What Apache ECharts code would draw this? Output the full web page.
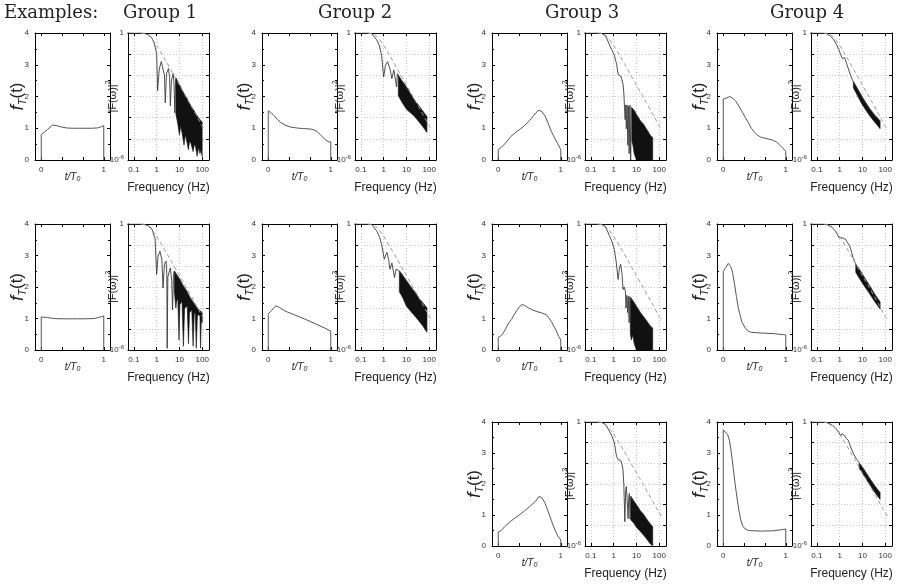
<!DOCTYPE html>
<html>
<head>
<meta charset="utf-8">
<script src="https://cdn.jsdelivr.net/npm/echarts@6/dist/echarts.min.js"></script>
<style>
  html, body { margin: 0; background: #fff; }
  #chart { width: 909px; height: 584px; }
</style>
</head>
<body>
<div id="chart"></div>
<script>
// ---- data ----
const groupTitles = ['Group 1', 'Group 2', 'Group 3', 'Group 4'];
const timeTicks = [0, 1 / 3, 2 / 3, 1];
const timeLabels = [0, 1];
const freqTicks = [0.1, 1, 10, 100];

// pulse shapes f_T(t), [t/T0, value]
const pulseG1a = [[0,0],[0,0.8],[0.05,0.88],[0.1,0.96],[0.18,1.1],[0.25,1.08],[0.3,1.05],[0.4,1.01],[0.5,1.0],[0.6,1.0],[0.7,1.0],[0.8,1.0],[0.9,1.01],[0.95,1.04],[1,1.08],[1,0]];
const pulseG1b = [[0,0],[0,1.05],[0.1,1.03],[0.2,1.0],[0.3,0.99],[0.5,0.99],[0.7,0.99],[0.85,1.0],[0.93,1.04],[1,1.08],[1,0]];
const pulseG2a = [[0,0],[0,1.55],[0.05,1.48],[0.1,1.38],[0.15,1.27],[0.2,1.18],[0.27,1.1],[0.35,1.04],[0.45,1.01],[0.55,0.99],[0.65,0.98],[0.72,0.96],[0.78,0.9],[0.83,0.8],[0.88,0.7],[0.92,0.63],[0.96,0.58],[1,0.57],[1,0]];
const pulseG2b = [[0,0],[0,1.15],[0.05,1.25],[0.12,1.4],[0.18,1.35],[0.25,1.26],[0.3,1.21],[0.4,1.13],[0.5,1.05],[0.6,0.97],[0.7,0.88],[0.8,0.79],[0.9,0.7],[1,0.6],[1,0]];
const pulseG3a = [[0,0],[0,0.33],[0.05,0.4],[0.1,0.5],[0.2,0.74],[0.3,0.9],[0.4,1.05],[0.5,1.24],[0.6,1.48],[0.65,1.57],[0.7,1.52],[0.75,1.38],[0.8,1.15],[0.85,0.9],[0.9,0.7],[0.95,0.52],[1,0.33],[1,0]];
const pulseG3b = [[0,0],[0,0.4],[0.05,0.46],[0.1,0.6],[0.15,0.8],[0.21,0.97],[0.29,1.24],[0.37,1.44],[0.42,1.42],[0.48,1.34],[0.55,1.27],[0.62,1.22],[0.69,1.18],[0.77,1.12],[0.81,1.02],[0.85,0.9],[0.9,0.72],[0.93,0.6],[0.97,0.42],[1,0.32],[1,0]];
const pulseG3c = [[0,0],[0,0.45],[0.05,0.5],[0.1,0.62],[0.2,0.8],[0.3,0.95],[0.4,1.1],[0.5,1.27],[0.6,1.45],[0.65,1.6],[0.7,1.55],[0.75,1.38],[0.8,1.1],[0.85,0.82],[0.9,0.55],[0.95,0.33],[1,0.2],[1,0]];
const pulseG4a = [[0,0],[0,1.92],[0.05,1.95],[0.1,2.0],[0.15,1.95],[0.2,1.85],[0.25,1.7],[0.3,1.52],[0.35,1.35],[0.4,1.18],[0.45,1.0],[0.5,0.87],[0.55,0.78],[0.6,0.72],[0.7,0.67],[0.8,0.62],[0.85,0.57],[0.9,0.48],[0.95,0.38],[1,0.27],[1,0]];
const pulseG4b = [[0,0],[0,2.5],[0.04,2.62],[0.08,2.75],[0.12,2.65],[0.15,2.45],[0.18,2.1],[0.21,1.7],[0.24,1.35],[0.27,1.1],[0.3,0.88],[0.35,0.7],[0.4,0.6],[0.45,0.56],[0.6,0.54],[0.8,0.52],[1,0.48],[1,0]];
const pulseG4c = [[0,0],[0,3.75],[0.03,3.72],[0.07,3.6],[0.1,3.4],[0.13,3.0],[0.16,2.5],[0.19,2.0],[0.22,1.55],[0.25,1.15],[0.28,0.85],[0.31,0.65],[0.35,0.55],[0.4,0.5],[0.6,0.48],[0.8,0.49],[0.95,0.53],[1,0.55],[1,0]];

// reference (dashed) spectrum, [Hz, |F|^2]
const refSpec = [[0.2,1],[0.3,0.96],[0.4,0.85],[0.6,0.55],[1,0.26],[2,0.075],[3,0.035],[5,0.013],[10,0.0035],[20,9.5e-4],[50,1.6e-4],[100,4e-5],[125,2.8e-5]];

// spectra: resolved lobes, then the dense band (upper edge / lower edge)
const specG1a = [[0.05,1],[0.2,0.99],[0.3,0.95],[0.45,0.8],[0.62,0.58],[0.8,0.3],[1.0,0.11],[1.1,0.0019],[1.3,0.02],[1.6,0.045],[1.9,0.044],[2.2,0.01],[2.4,0.0005],[2.7,0.012],[3.3,0.021],[3.7,0.008],[4.0,0.00036],[4.5,0.006],[5.3,0.012],[5.8,0.004],[6.3,0.00017],[6.8,0.006]];
const topG1a = [[7,0.0075],[10,0.0035],[15,0.0015],[20,0.0009],[30,0.0004],[45,0.0002],[60,0.00012],[80,0.00008],[100,0.00006]];
const botG1a = [[7,1.5e-4],[8.5,5e-5],[10,1.5e-5],[11.5,4e-5],[13,2e-5],[16,5e-6],[18,1.5e-5],[20,1e-5],[25,3e-6],[28,8e-6],[32,6e-6],[40,2.5e-6],[45,5e-6],[50,5e-6],[60,1.5e-6],[70,4e-6],[80,2e-6],[90,3e-6],[100,1.5e-6]];

const specG1b = [[0.05,1],[0.2,0.99],[0.3,0.95],[0.45,0.8],[0.62,0.58],[0.85,0.2],[1.0,0.004],[1.15,0.03],[1.4,0.05],[1.7,0.02],[1.9,0.0009],[2.2,0.012],[2.6,0.017],[2.8,0.004],[2.9,1.2e-6],[3.1,0.003],[4.0,0.008],[4.6,0.002],[5.0,8e-5],[5.5,0.004]];
const topG1b = [[6,0.0058],[8,0.0035],[10,0.0025],[15,0.0011],[20,0.0007],[30,0.0003],[45,0.00016],[60,0.0001],[85,0.00007],[100,0.00006]];
const botG1b = [[6,6e-4],[7,1e-4],[7.5,2e-4],[8.5,3e-4],[9.6,3e-6],[10.5,1.5e-4],[13,2e-4],[15,1.5e-6],[17,1e-4],[22,1.2e-4],[25,2e-6],[28,6e-5],[35,8e-5],[40,1.5e-6],[45,5e-5],[50,6e-5],[55,1.2e-6],[62,4e-5],[70,5e-5],[80,4e-5],[85,1.2e-6],[92,3e-5],[100,2e-5]];

const specG2a = [[0.05,1],[0.2,0.99],[0.3,0.93],[0.49,0.48],[0.65,0.25],[0.81,0.09],[1.0,0.0083],[1.2,0.03],[1.5,0.044],[1.9,0.02],[2.3,0.007],[2.8,0.018],[3.3,0.021],[3.7,0.0028],[4.0,0.012]];
const topG2a = [[4.4,0.01],[6,0.006],[10,0.0028],[20,0.0008],[40,0.0003],[80,0.00011]];
const botG2a = [[4.4,1.1e-3],[6,6e-4],[10,2.5e-4],[20,1.3e-4],[30,8e-5],[50,4e-5],[80,2e-5]];

const specG2b = [[0.05,1],[0.2,0.99],[0.3,0.93],[0.49,0.48],[0.65,0.25],[0.81,0.11],[1.07,0.021],[1.25,0.035],[1.4,0.044],[1.65,0.02],[1.9,0.007],[2.3,0.014],[2.6,0.017],[3.0,0.0028],[3.5,0.007],[4.1,0.0083]];
const topG2b = [[4.9,0.0058],[7,0.0035],[10,0.002],[20,0.0007],[40,0.00025],[80,0.0001]];
const botG2b = [[4.9,6e-4],[7,3e-4],[10,1.2e-4],[20,5e-5],[30,3e-5],[50,1.5e-5],[80,7e-6]];

const specG3a = [[0.05,1],[0.2,0.99],[0.3,0.96],[0.45,0.7],[0.65,0.28],[0.85,0.15],[1.07,0.09],[1.38,0.03],[1.57,0.011],[1.8,0.0098],[2.04,0.0093],[2.3,0.0065],[2.57,0.004],[2.8,0.0015],[3.0,0.0003],[3.2,0.00008],[3.4,0.0004],[3.6,0.00003],[3.9,0.0004],[4.2,5e-6],[4.5,0.00035],[4.8,2e-6],[5.2,0.0004],[5.6,1e-6],[6,0.0003]];
const topG3a = [[6.3,0.0003],[8,0.00022],[10,0.00014],[15,0.00007],[20,0.00005],[30,0.000025],[40,0.000015],[52,0.000011]];
const botG3a = [[6.3,8e-6],[7,5e-6],[8,2e-6],[10,1e-6],[20,1e-6],[40,1e-6],[52,1e-6]];

const specG3b = [[0.05,1],[0.2,0.99],[0.3,0.96],[0.45,0.7],[0.65,0.28],[0.85,0.14],[1.07,0.063],[1.3,0.015],[1.57,0.0023],[1.8,0.008],[2.04,0.012],[2.3,0.005],[2.6,0.00076],[2.9,0.001],[3.3,0.0006],[3.5,0.0001],[3.8,0.0004],[4.1,0.00006],[4.4,0.00036],[4.8,0.00002],[5.1,0.00035]];
const topG3b = [[5.4,0.00033],[7,0.00022],[10,0.00012],[15,0.00006],[20,0.00004],[30,0.000022],[40,0.000014],[52,0.000011]];
const botG3b = [[5.4,6e-6],[6,3e-6],[7,5e-6],[8,2e-6],[10,1e-6],[15,1e-6],[30,1e-6],[52,1e-6]];

const specG3c = [[0.05,1],[0.2,0.99],[0.3,0.96],[0.45,0.72],[0.65,0.36],[0.85,0.2],[1.07,0.1],[1.33,0.022],[1.57,0.015],[1.8,0.0145],[2.04,0.014],[2.3,0.009],[2.57,0.005],[2.8,0.001],[3.1,0.000015],[3.4,0.0005],[3.6,0.00076],[3.9,0.0002],[4.3,0.000021],[4.6,0.0002],[4.9,0.00035],[5.3,0.00002]];
const topG3c = [[5.7,0.00025],[8,0.00014],[10,0.0001],[15,0.00005],[20,0.000035],[30,0.000018],[40,0.000012],[52,0.0000085]];
const botG3c = [[5.7,1.8e-5],[8,1.2e-5],[10,8e-6],[15,5e-6],[20,3.5e-6],[30,2e-6],[40,1.3e-6],[52,1e-6]];

const specG4a = [[0.05,1],[0.2,0.98],[0.28,0.9],[0.4,0.7],[0.55,0.48],[0.75,0.27],[0.92,0.16],[1.1,0.1],[1.3,0.063],[1.45,0.075],[1.65,0.068],[2.03,0.036],[2.6,0.016],[3.2,0.0085],[3.7,0.0058]];
const topG4a = [[4.0,0.005],[6,0.0024],[10,0.0009],[20,0.00028],[35,0.00013],[60,0.00007]];
const botG4a = [[4.0,2.6e-3],[6,1.1e-3],[10,4e-4],[20,1.3e-4],[35,6e-5],[60,3e-5]];

const specG4b = [[0.05,1],[0.2,0.98],[0.3,0.9],[0.47,0.69],[0.65,0.45],[0.78,0.33],[0.95,0.22],[1.1,0.18],[1.3,0.22],[1.5,0.26],[1.8,0.19],[2.2,0.13],[2.75,0.09],[3.1,0.06],[3.4,0.044],[3.9,0.025],[4.5,0.017]];
const topG4b = [[5.1,0.012],[7,0.0075],[10,0.004],[20,0.0012],[35,0.00045],[60,0.00019]];
const botG4b = [[5.1,5e-3],[7,2.8e-3],[10,1.5e-3],[20,5e-4],[35,2e-4],[60,9e-5]];

const specG4c = [[0.05,1],[0.2,0.98],[0.3,0.9],[0.47,0.69],[0.65,0.52],[0.78,0.44],[0.95,0.3],[1.1,0.21],[1.25,0.27],[1.43,0.3],[1.65,0.22],[1.83,0.17],[2.0,0.18],[2.2,0.14],[2.4,0.13],[2.6,0.1],[2.85,0.095],[3.1,0.081],[3.6,0.039],[4.3,0.026],[5.1,0.018],[6,0.014]];
const topG4c = [[7.2,0.0105],[10,0.0065],[20,0.002],[35,0.0008],[60,0.00038]];
const botG4c = [[7.2,5.9e-3],[10,3.3e-3],[20,1e-3],[35,4e-4],[60,1.8e-4]];

// which panel each example goes in: [group, row]
const examples = [
  { at: [0, 0], pulse: pulseG1a, spec: specG1a, top: topG1a, bot: botG1a },
  { at: [0, 1], pulse: pulseG1b, spec: specG1b, top: topG1b, bot: botG1b },
  { at: [1, 0], pulse: pulseG2a, spec: specG2a, top: topG2a, bot: botG2a },
  { at: [1, 1], pulse: pulseG2b, spec: specG2b, top: topG2b, bot: botG2b },
  { at: [2, 0], pulse: pulseG3a, spec: specG3a, top: topG3a, bot: botG3a },
  { at: [2, 1], pulse: pulseG3b, spec: specG3b, top: topG3b, bot: botG3b },
  { at: [2, 2], pulse: pulseG3c, spec: specG3c, top: topG3c, bot: botG3c },
  { at: [3, 0], pulse: pulseG4a, spec: specG4a, top: topG4a, bot: botG4a },
  { at: [3, 1], pulse: pulseG4b, spec: specG4b, top: topG4b, bot: botG4b },
  { at: [3, 2], pulse: pulseG4c, spec: specG4c, top: topG4c, bot: botG4c }
];

// ---- layout ----
const colTime = [[35, 110], [262, 337], [492, 567], [717, 792]];
const colSpec = [[128, 209], [355, 436], [585, 666], [811, 892]];
const rowY = [[33, 160], [224, 350], [422, 546]];
const titleLeft = [123, 318, 545, 770];

const sans = 'Liberation Sans';
const lineCol = { color: '#000', width: 1 };
const tickIn = { inside: true, length: 3, lineStyle: { color: '#000' } };
const gridLine = { show: true, lineStyle: { color: '#c8c8c8', type: [1, 2], width: 1 } };

const chart = echarts.init(document.getElementById('chart'));
const grid = [], xAxis = [], yAxis = [], series = [];

function addBox(box, rows, kind) {
  const gi = grid.length;
  grid.push({ left: box[0], top: rows[0], width: box[1] - box[0], height: rows[1] - rows[0], containLabel: false });
  const xi = xAxis.length, yi = yAxis.length;
  if (kind === 'time') {
    const xBase = { type: 'value', gridIndex: gi, min: -0.1, max: 1.1, nameMoveOverlap: false,
      axisLine: { show: true, onZero: false, lineStyle: lineCol },
      axisTick: Object.assign({ customValues: timeTicks }, tickIn), splitLine: { show: false } };
    xAxis.push(Object.assign({}, xBase, { position: 'bottom',
      axisLabel: { customValues: timeLabels, fontSize: 8, color: '#333', fontFamily: sans, margin: 6 },
      name: '{i|t/T}{s|0}', nameLocation: 'middle', nameGap: 11,
      nameTextStyle: { rich: { i: { fontStyle: 'italic', fontSize: 10, fontFamily: sans, color: '#222' },
        s: { fontStyle: 'italic', fontSize: 7, fontFamily: sans, color: '#222', padding: [5, 0, 0, 0] } } } }));
    xAxis.push(Object.assign({}, xBase, { position: 'top', axisLabel: { show: false } }));
    const yBase = { type: 'value', gridIndex: gi, min: 0, max: 4, interval: 1, nameMoveOverlap: false,
      axisLine: { show: true, onZero: false, lineStyle: lineCol },
      axisTick: tickIn, minorTick: { show: true, splitNumber: 2, length: 2, lineStyle: { color: '#000' } }, splitLine: { show: false } };
    yAxis.push(Object.assign({}, yBase, { position: 'left',
      axisLabel: { fontSize: 8, color: '#333', fontFamily: sans, margin: 6 },
      name: '{f|f}{t|T}{p|(t)}', nameLocation: 'middle', nameGap: 7,
      nameTextStyle: { rich: { f: { fontStyle: 'italic', fontSize: 19, fontFamily: sans, color: '#222' },
        t: { fontStyle: 'italic', fontSize: 11, fontFamily: sans, color: '#222', padding: [10, 0, 0, 0] },
        p: { fontSize: 17, fontFamily: sans, color: '#222' } } } }));
    yAxis.push(Object.assign({}, yBase, { position: 'right', axisLabel: { show: false } }));
  } else {
    const xBase = { type: 'log', logBase: 10, gridIndex: gi, min: 0.055, max: 200, nameMoveOverlap: false,
      axisLine: { show: true, onZero: false, lineStyle: lineCol },
      axisTick: Object.assign({ customValues: freqTicks }, tickIn), splitLine: gridLine };
    xAxis.push(Object.assign({}, xBase, { position: 'bottom',
      axisLabel: { customValues: freqTicks, fontSize: 8, color: '#333', fontFamily: sans, margin: 6,
        formatter: v => String(+(+v).toPrecision(2)) },
      name: 'Frequency (Hz)', nameLocation: 'middle', nameGap: 22,
      nameTextStyle: { fontSize: 12, fontFamily: sans, color: '#222' } }));
    xAxis.push(Object.assign({}, xBase, { position: 'top', axisLabel: { show: false }, splitLine: { show: false } }));
    const yBase = { type: 'log', logBase: 10, gridIndex: gi, min: 1e-6, max: 1, nameMoveOverlap: false,
      axisLine: { show: true, onZero: false, lineStyle: lineCol }, axisTick: tickIn, splitLine: gridLine };
    yAxis.push(Object.assign({}, yBase, { position: 'left',
      axisLabel: { fontSize: 8, color: '#333', fontFamily: sans, margin: 4,
        formatter: v => { const p = Math.round(Math.log10(v)); return p === 0 ? '1' : (p === -6 ? '10{s|-6}' : ''); },
        rich: { s: { fontSize: 6, color: '#333', fontFamily: sans, padding: [0, 0, 6, 0] } } },
      name: '|F(ω)|{s|2}', nameLocation: 'middle', nameGap: 7,
      nameTextStyle: { fontSize: 11, fontFamily: sans, color: '#222',
        rich: { s: { fontSize: 7, fontFamily: sans, color: '#222', padding: [0, 0, 9, 0] } } } }));
    yAxis.push(Object.assign({}, yBase, { position: 'right', axisLabel: { show: false }, splitLine: { show: false } }));
  }
  return { xi, yi };
}

function bandRender(poly) {
  return function (params, api) {
    if (params.dataIndex !== 0) return null;
    return {
      type: 'polygon',
      shape: { points: poly.map(p => api.coord(p)) },
      style: { fill: '#111', stroke: '#111', lineWidth: 0.6 }
    };
  };
}

examples.forEach(ex => {
  const g = ex.at[0], r = ex.at[1];
  const t = addBox(colTime[g], rowY[r], 'time');
  series.push({ type: 'line', xAxisIndex: t.xi, yAxisIndex: t.yi, data: ex.pulse, showSymbol: false,
    lineStyle: { color: '#555', width: 1 }, silent: true });

  const s = addBox(colSpec[g], rowY[r], 'spec');
  const poly = ex.top.concat(ex.bot.slice().reverse());
  series.push({ type: 'custom', xAxisIndex: s.xi, yAxisIndex: s.yi, data: poly, clip: true,
    renderItem: bandRender(poly), silent: true });
  series.push({ type: 'line', xAxisIndex: s.xi, yAxisIndex: s.yi, data: ex.spec.concat(ex.top), showSymbol: false,
    lineStyle: { color: '#3a3a3a', width: 0.9 }, clip: true, silent: true });
  series.push({ type: 'line', xAxisIndex: s.xi, yAxisIndex: s.yi, data: refSpec, showSymbol: false,
    lineStyle: { color: '#9a9a9a', width: 1, type: [4, 3] }, clip: true, silent: true, z: 3 });
});

const titleStyle = { fontFamily: 'DejaVu Serif', fontSize: 18, fontWeight: 'normal', color: '#222' };
const title = [{ text: 'Examples:', left: 4, top: 4, padding: 0, textStyle: titleStyle }]
  .concat(groupTitles.map((txt, i) => ({ text: txt, left: titleLeft[i], top: 4, padding: 0, textStyle: titleStyle })));

chart.setOption({
  animation: false,
  backgroundColor: '#fff',
  title: title,
  grid: grid,
  xAxis: xAxis,
  yAxis: yAxis,
  series: series
});
</script>
</body>
</html>
